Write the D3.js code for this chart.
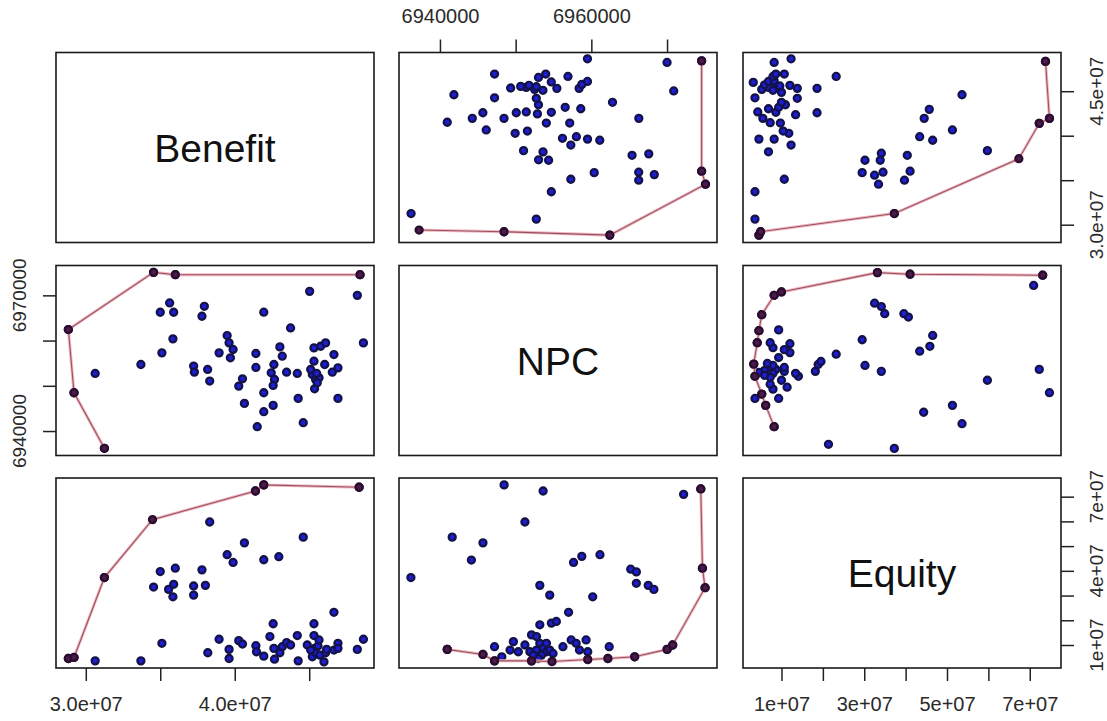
<!DOCTYPE html>
<html>
<head>
<meta charset="utf-8">
<script src="https://cdn.jsdelivr.net/npm/d3@7"></script>
<style>
  body { margin: 0; background: #fff; }
  text { font-family: "Liberation Sans", Arial, sans-serif; }
</style>
</head>
<body>
<svg id="chart" width="1107" height="721"></svg>
<script>
// variables of the pairs plot (diagonal labels)
const vars = ['Benefit', 'NPC', 'Equity'];

// axis limits (R usr ranges)
const benefitLim = [2.80e7, 4.935e7];
const npcLim = [6934590, 6976600];
const equityLim = [0.07e7, 7.755e7];

// ticks and the labels R kept after dropping overlaps
const benefitTicks = [3.0e7, 3.5e7, 4.0e7, 4.5e7];
const benefitXLabels = ['3.0e+07', '', '4.0e+07', ''];
const benefitYLabels = ['3.0e+07', '', '', '4.5e+07'];
const npcTicks = [6940000, 6950000, 6960000, 6970000];
const npcXLabels = ['6940000', '', '6960000', ''];
const npcYLabels = ['6940000', '', '', '6970000'];
const equityTicks = [1e7, 2e7, 3e7, 4e7, 5e7, 6e7, 7e7];
const equityXLabels = ['1e+07', '', '3e+07', '', '5e+07', '', '7e+07'];
const equityYLabels = ['1e+07', '', '', '4e+07', '', '', '7e+07'];

// Benefit vs NPC  [benefit, npc]
const ptsBN = [
  [3.125e7, 6936184], [2.921e7, 6948463], [2.883e7, 6962434], [3.455e7, 6975081], [3.601e7, 6974567],
  [4.841e7, 6974567], [3.063e7, 6952728], [3.370e7, 6954713], [3.500e7, 6966258], [3.563e7, 6968317],
  [3.590e7, 6966258], [3.511e7, 6957289], [3.585e7, 6960377], [3.796e7, 6967583], [3.780e7, 6965377],
  [3.724e7, 6954353], [3.729e7, 6953029], [3.818e7, 6953617], [3.832e7, 6951044], [3.895e7, 6957289],
  [3.949e7, 6961112], [3.962e7, 6959495], [3.989e7, 6958024], [3.971e7, 6956186], [4.027e7, 6949936],
  [4.052e7, 6951553], [4.065e7, 6946112], [4.142e7, 6957142], [4.142e7, 6954053], [4.195e7, 6966273],
  [4.195e7, 6948463], [4.195e7, 6944272], [4.151e7, 6940963], [4.258e7, 6945669], [4.263e7, 6954713],
  [4.245e7, 6952875], [4.267e7, 6951404], [4.258e7, 6950081], [4.303e7, 6958604], [4.319e7, 6956545],
  [4.348e7, 6953016], [4.375e7, 6962796], [4.420e7, 6952728], [4.426e7, 6947213], [4.460e7, 6941845],
  [4.503e7, 6970883], [4.532e7, 6958383], [4.532e7, 6955442], [4.521e7, 6952501], [4.543e7, 6951398],
  [4.536e7, 6949339], [4.566e7, 6951765], [4.577e7, 6958751], [4.610e7, 6959487], [4.604e7, 6954707],
  [4.666e7, 6956913], [4.655e7, 6953016], [4.693e7, 6953972], [4.693e7, 6947213], [4.823e7, 6970001],
  [4.864e7, 6959487], [4.510e7, 6953605], [4.554e7, 6950669], [4.550e7, 6952728]
];

// Benefit vs Equity  [benefit, equity]
const ptsBE = [
  [2.883e7, 0.455e7], [2.921e7, 0.496e7], [3.125e7, 3.727e7], [4.139e7, 7.230e7], [4.195e7, 7.476e7],
  [4.835e7, 7.380e7], [3.063e7, 0.359e7], [3.370e7, 0.359e7], [3.511e7, 1.068e7], [3.455e7, 3.345e7],
  [3.500e7, 3.972e7], [3.601e7, 4.108e7], [3.556e7, 3.249e7], [3.590e7, 3.454e7], [3.585e7, 2.950e7],
  [3.724e7, 3.386e7], [3.724e7, 3.018e7], [3.780e7, 4.040e7], [3.803e7, 3.413e7], [3.819e7, 0.686e7],
  [3.832e7, 5.976e7], [3.895e7, 1.232e7], [3.949e7, 4.654e7], [3.989e7, 4.340e7], [3.962e7, 0.823e7],
  [3.962e7, 0.455e7], [4.027e7, 1.177e7], [4.052e7, 1.041e7], [4.065e7, 5.131e7], [4.142e7, 0.973e7],
  [4.146e7, 0.727e7], [4.195e7, 4.449e7], [4.195e7, 0.550e7], [4.236e7, 1.341e7], [4.258e7, 1.859e7],
  [4.263e7, 0.864e7], [4.267e7, 0.427e7], [4.296e7, 4.572e7], [4.303e7, 0.686e7], [4.319e7, 0.932e7],
  [4.348e7, 1.095e7], [4.375e7, 1.000e7], [4.420e7, 1.382e7], [4.426e7, 0.359e7], [4.460e7, 5.363e7],
  [4.487e7, 1.000e7], [4.521e7, 0.523e7], [4.532e7, 1.859e7], [4.532e7, 1.382e7], [4.536e7, 0.864e7],
  [4.543e7, 0.686e7], [4.559e7, 0.959e7], [4.572e7, 0.591e7], [4.599e7, 0.318e7], [4.610e7, 0.686e7],
  [4.617e7, 0.823e7], [4.666e7, 2.322e7], [4.666e7, 0.795e7], [4.693e7, 1.068e7], [4.823e7, 0.823e7],
  [4.864e7, 1.232e7], [4.693e7, 0.864e7], [4.510e7, 0.795e7], [4.566e7, 1.204e7]
];

// NPC vs Equity  [npc, equity]
const ptsNE = [
  [6940965, 0.823e7], [6945680, 0.618e7], [6947209, 0.359e7], [6948170, 0.523e7], [6952100, 0.359e7],
  [6954800, 0.330e7], [6959524, 0.414e7], [6962188, 0.455e7], [6965725, 0.523e7], [6970005, 0.823e7],
  [6970747, 1.000e7], [6975026, 3.318e7], [6974677, 4.108e7], [6974458, 7.312e7], [6936161, 3.727e7],
  [6941620, 5.363e7], [6944153, 4.436e7], [6945681, 5.131e7], [6948476, 7.476e7], [6951227, 5.976e7],
  [6953629, 7.230e7], [6953193, 3.413e7], [6954503, 3.018e7], [6956992, 2.322e7], [6957647, 4.340e7],
  [6958739, 4.586e7], [6961141, 4.654e7], [6960180, 2.950e7], [6965202, 4.067e7], [6965944, 3.958e7],
  [6965944, 3.495e7], [6967516, 3.413e7], [6968259, 3.250e7], [6972189, 7.094e7], [6953193, 1.818e7],
  [6954721, 1.886e7], [6955376, 1.954e7], [6947209, 0.932e7], [6949698, 1.136e7], [6949261, 0.795e7],
  [6950353, 0.727e7], [6951227, 1.000e7], [6952100, 1.409e7], [6952755, 1.341e7], [6953193, 1.068e7],
  [6953629, 0.864e7], [6954066, 0.727e7], [6954503, 0.795e7], [6953411, 0.591e7], [6952755, 0.795e7],
  [6951882, 0.727e7], [6956246, 0.932e7], [6957338, 1.204e7], [6957993, 1.068e7], [6959303, 1.204e7],
  [6958430, 0.795e7], [6959522, 0.727e7], [6962360, 0.932e7], [6954066, 1.068e7], [6954939, 0.659e7],
  [6952973, 0.455e7], [6952318, 0.591e7]
];
// a point seen only in the upper Equity/NPC panel  [equity, npc]
const ptsENupper = [[2.136e7, 6937059]];

// front lines, one per panel, in that panel's [x, y]
const frontNB = [[6937249, 2.94e7], [6948463, 2.921e7], [6962434, 2.883e7], [6975081, 3.455e7], [6974567, 3.601e7], [6974567, 4.841e7]];
const frontEB = [[0.455e7, 2.883e7], [0.496e7, 2.921e7], [3.727e7, 3.125e7], [6.736e7, 3.742e7], [7.230e7, 4.139e7], [7.476e7, 4.195e7], [7.380e7, 4.835e7]];
const frontBN = [[3.125e7, 6936184], [2.921e7, 6948463], [2.883e7, 6962434], [3.455e7, 6975081], [3.601e7, 6974567], [4.841e7, 6974567]];
const frontEN = [[0.823e7, 6940965], [0.618e7, 6945680], [0.523e7, 6948170], [0.359e7, 6952100], [0.330e7, 6954800], [0.414e7, 6959524],
  [0.455e7, 6962188], [0.523e7, 6965725], [0.823e7, 6970005], [1.000e7, 6970747], [3.318e7, 6975026], [4.108e7, 6974677], [7.312e7, 6974458]];
const frontBE = [[2.883e7, 0.455e7], [2.921e7, 0.496e7], [3.125e7, 3.727e7], [3.448e7, 6.072e7], [4.139e7, 7.230e7], [4.195e7, 7.476e7], [4.835e7, 7.380e7]];
const frontNE = [[6940965, 0.823e7], [6945680, 0.618e7], [6947209, 0.359e7], [6952100, 0.359e7], [6954800, 0.330e7], [6959524, 0.414e7],
  [6962188, 0.455e7], [6965725, 0.523e7], [6970005, 0.823e7], [6970747, 1.000e7], [6975026, 3.318e7], [6974677, 4.108e7], [6974458, 7.312e7]];

// layout
const colLeft = [56, 399, 743];
const rowTop = [52.5, 265.5, 478];
const pw = 318, ph = 190;
const tickLen = 13;

const limits = [benefitLim, npcLim, equityLim];
const svg = d3.select('#chart');

const xScales = limits.map((lim, i) => d3.scaleLinear().domain(lim).range([colLeft[i], colLeft[i] + pw]));
const yScales = limits.map((lim, i) => d3.scaleLinear().domain(lim).range([rowTop[i] + ph, rowTop[i]]));

const swap = arr => arr.map(d => [d[1], d[0]]);
const panels = [
  { row: 0, col: 1, pts: swap(ptsBN), front: frontNB },
  { row: 0, col: 2, pts: swap(ptsBE), front: frontEB },
  { row: 1, col: 0, pts: ptsBN, front: frontBN },
  { row: 1, col: 2, pts: swap(ptsNE).concat(ptsENupper), front: frontEN },
  { row: 2, col: 0, pts: ptsBE, front: frontBE },
  { row: 2, col: 1, pts: ptsNE, front: frontNE }
];

// panel boxes + diagonal names
for (let r = 0; r < 3; r++) {
  for (let c = 0; c < 3; c++) {
    svg.append('rect')
      .attr('x', colLeft[c]).attr('y', rowTop[r])
      .attr('width', pw).attr('height', ph)
      .attr('fill', 'none').attr('stroke', '#1a1a1a').attr('stroke-width', 1.6);
    if (r === c) {
      svg.append('text')
        .attr('x', colLeft[c] + pw / 2).attr('y', rowTop[r] + ph / 2)
        .attr('dy', '0.36em')
        .attr('text-anchor', 'middle')
        .attr('font-size', 39)
        .attr('fill', '#111')
        .text(vars[r]);
    }
  }
}

const line = d3.line();
panels.forEach(p => {
  const x = xScales[p.col], y = yScales[p.row];
  const g = svg.append('g');
  g.selectAll('.pt')
    .data(p.pts)
    .join('circle')
    .attr('class', 'pt')
    .attr('cx', d => x(d[0]))
    .attr('cy', d => y(d[1]))
    .attr('r', 3.5)
    .attr('fill', '#1e1ed6')
    .attr('stroke', '#13134a')
    .attr('stroke-width', 2.3);

  const path = line(p.front.map(d => [x(d[0]), y(d[1])]));
  g.append('path').attr('d', path)
    .attr('fill', 'none').attr('stroke', '#f0b8c0').attr('stroke-width', 3);
  g.append('path').attr('d', path)
    .attr('fill', 'none').attr('stroke', '#9a5262').attr('stroke-width', 1.1);

  g.selectAll('.fv')
    .data(p.front)
    .join('circle')
    .attr('class', 'fv')
    .attr('cx', d => x(d[0]))
    .attr('cy', d => y(d[1]))
    .attr('r', 3.5)
    .attr('fill', '#4a1c4c')
    .attr('stroke', '#2c0c2e')
    .attr('stroke-width', 2.3);
});

// axes
const tickSets = [benefitTicks, npcTicks, equityTicks];
const xLabelSets = [benefitXLabels, npcXLabels, equityXLabels];
const yLabelSets = [benefitYLabels, npcYLabels, equityYLabels];

function styleAxis(g) {
  g.select('.domain').remove();
  g.selectAll('line').attr('stroke', '#222').attr('stroke-width', 1.5);
  g.selectAll('text').attr('font-size', 20).attr('fill', '#2a2a2a')
    .attr('font-family', '"Liberation Sans", Arial, sans-serif');
}

[0, 1, 2].forEach(c => {
  const top = c === 1;
  const ax = (top ? d3.axisTop(xScales[c]) : d3.axisBottom(xScales[c]))
    .tickValues(tickSets[c])
    .tickSize(tickLen)
    .tickPadding(top ? 17 : 16)
    .tickFormat((d, i) => xLabelSets[c][i]);
  svg.append('g')
    .attr('transform', `translate(0,${top ? rowTop[0] : rowTop[2] + ph})`)
    .call(ax)
    .call(styleAxis);
});

[0, 1, 2].forEach(r => {
  const left = r === 1;
  const ax = (left ? d3.axisLeft(yScales[r]) : d3.axisRight(yScales[r]))
    .tickValues(tickSets[r])
    .tickSize(tickLen)
    .tickFormat('');
  const x0 = left ? colLeft[0] : colLeft[2] + pw;
  svg.append('g')
    .attr('transform', `translate(${x0},0)`)
    .call(ax)
    .call(styleAxis);

  const lx = left ? 19.5 : 1096.5;
  svg.append('g').selectAll('text')
    .data(tickSets[r].map((t, i) => ({ t, label: yLabelSets[r][i] })).filter(d => d.label))
    .join('text')
    .attr('transform', d => `translate(${lx},${yScales[r](d.t)}) rotate(-90)`)
    .attr('dy', '0.36em')
    .attr('text-anchor', 'middle')
    .attr('font-size', 19)
    .attr('fill', '#2a2a2a')
    .text(d => d.label);
});
</script>
</body>
</html>
